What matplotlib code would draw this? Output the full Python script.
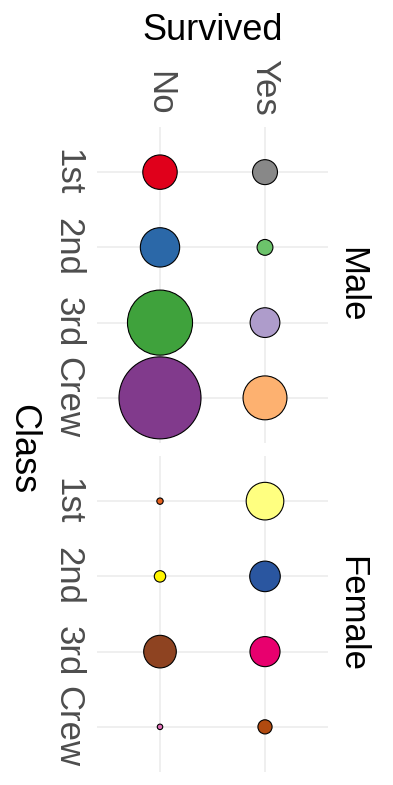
import numpy as np
import matplotlib
matplotlib.use("Agg")
import matplotlib.pyplot as plt

plt.rcParams['font.family'] = ['Liberation Sans', 'DejaVu Sans']

#Titanic counts by sex, class and survival
classes = ['1st', '2nd', '3rd', 'Crew']
survived = ['No', 'Yes']
sexes = ['Male', 'Female']

male_no = [118, 154, 422, 670]
male_yes = [62, 25, 88, 192]
female_no = [4, 13, 106, 3]
female_yes = [141, 93, 90, 20]

#one colour per bubble
male_no_col = ['#E0001B', '#2B68A8', '#3FA23C', '#813A8C']
male_yes_col = ['#888888', '#6CC36B', '#AE9CCB', '#FDB170']
female_no_col = ['#E8621E', '#FFF500', '#8E4321', '#E070B8']
female_yes_col = ['#FFFF80', '#2A56A0', '#E8006E', '#B04A10']

counts = {'Male': (male_no, male_yes), 'Female': (female_no, female_yes)}
colours = {'Male': (male_no_col, male_yes_col), 'Female': (female_no_col, female_yes_col)}

W, H = 393, 785
fig = plt.figure(figsize=(W/100, H/100), dpi=100)

#panel boxes in pixels (left, top, right, bottom)
boxes = {'Male': (97, 127, 328, 443), 'Female': (97, 456, 328, 772)}

#biggest bubble radius in pixels
rmax = 41.0
nmax = max(male_no)
tick_col = '#4D4D4D'
fs = 25

for k, sex in enumerate(sexes):
	l, t, r, b = boxes[sex]
	ax = fig.add_axes([l/W, 1 - b/H, (r-l)/W, (b-t)/H])
	ax.set_xlim(-0.6, 1.6)
	ax.set_ylim(3.6, -0.6)
	ax.set_xticks(range(len(survived)))
	ax.set_yticks(range(len(classes)))
	ax.grid(True, color='#EBEBEB', linewidth=1.1)
	ax.set_axisbelow(True)
	for s in ax.spines.values():
		s.set_visible(False)

	for j in range(len(survived)):
		n = np.array(counts[sex][j], dtype=float)
		#area proportional to count
		diam_pt = 2*rmax*0.72*np.sqrt(n/nmax)
		ax.scatter(np.full(len(classes), j), np.arange(len(classes)), s=diam_pt**2,
			c=colours[sex][j], edgecolors='black', linewidths=0.8, zorder=3)

	ax.set_yticklabels(classes, rotation=-90, va='center', ha='right', fontsize=fs, color=tick_col)
	ax.tick_params(axis='y', length=0, pad=9)
	if k == 0:
		ax.xaxis.tick_top()
		ax.set_xticklabels(survived, rotation=-90, va='bottom', ha='center', fontsize=fs, color=tick_col)
		ax.tick_params(axis='x', length=0, pad=8)
		ax.xaxis.set_label_position('top')
		ax.set_xlabel('Survived', fontsize=26, labelpad=14)
	else:
		ax.tick_params(axis='x', length=0, labeltop=False, labelbottom=False)

	#facet strip text on the right
	ax.text(1 + 7/(r-l), 0.5, sex, transform=ax.transAxes, rotation=-90,
		ha='left', va='center', fontsize=fs)

fig.text(5/W, 1 - 449/H, 'Class', rotation=-90, ha='left', va='center', fontsize=26)

fig.savefig('out.png', dpi=100, facecolor='white')
